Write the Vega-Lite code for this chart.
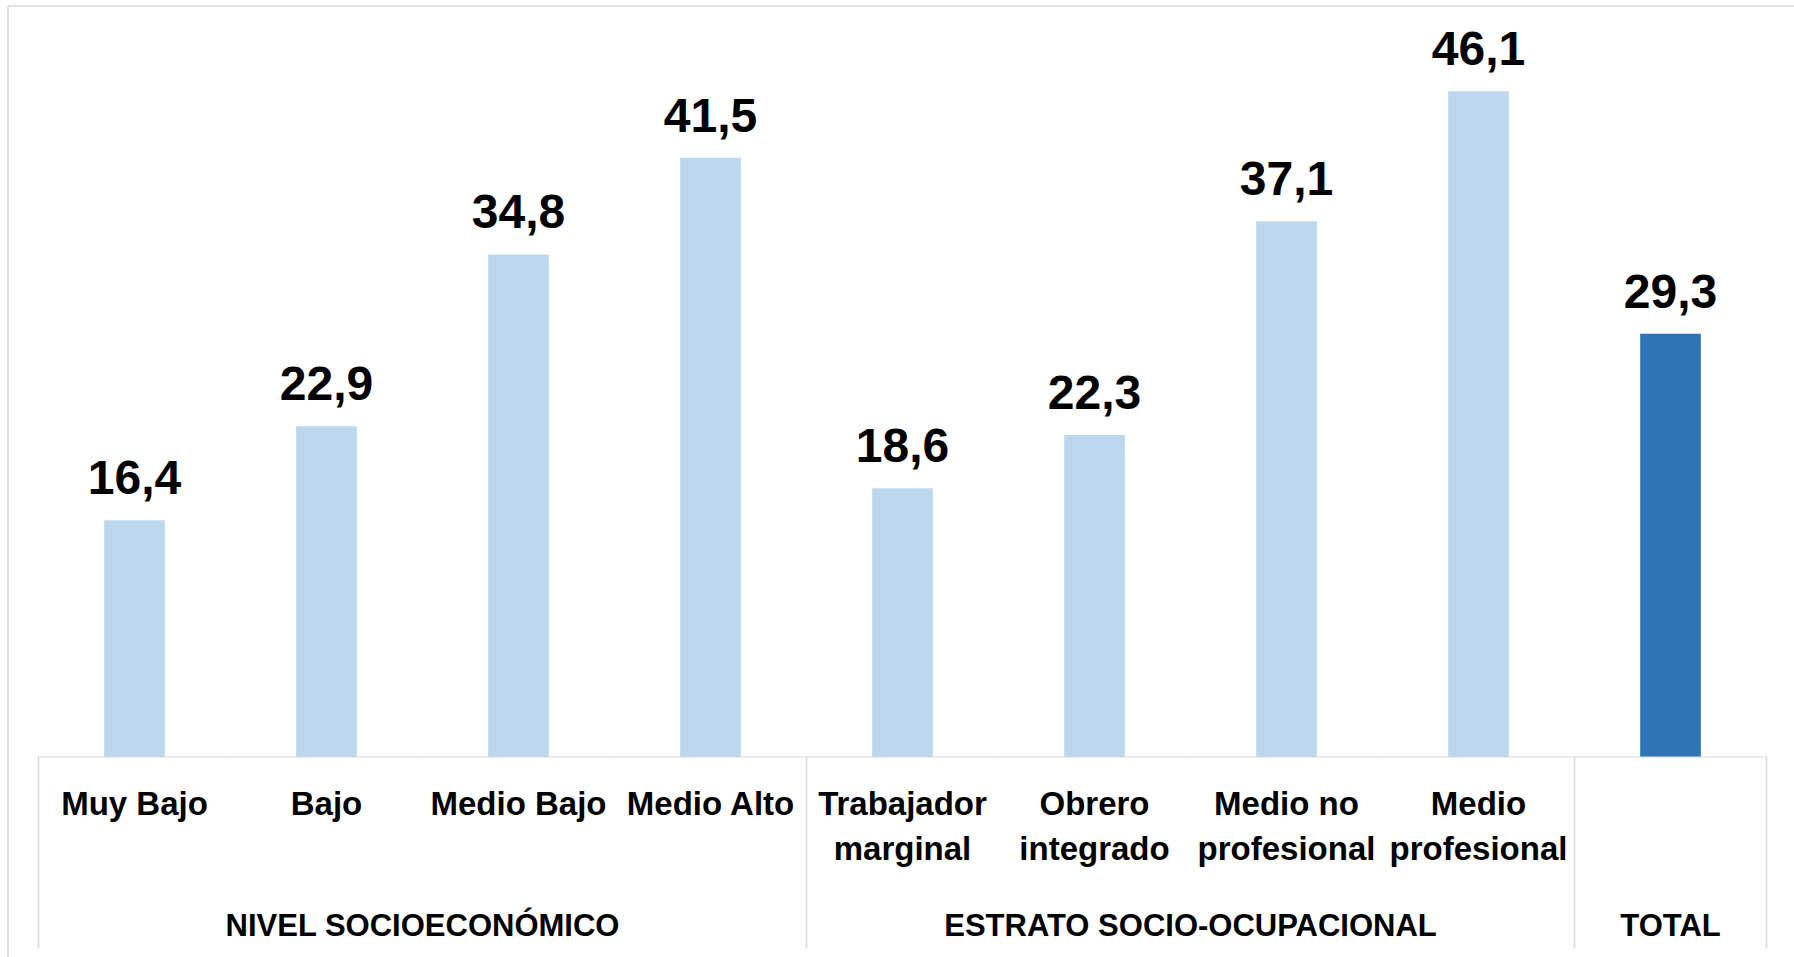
{
  "$schema": "https://vega.github.io/schema/vega-lite/v6.json",
  "autosize": "none",
  "width": 1786,
  "height": 951,
  "padding": {"left": 8, "top": 6, "right": 0, "bottom": 0},
  "background": "white",
  "config": {
    "font": "Liberation Sans",
    "view": {"stroke": "#d9d9d9", "strokeWidth": 1.5, "strokeDash": [1786, 2737, 951, 0]},
    "axis": {"domain": false, "ticks": false, "grid": false},
    "locale": {"number": {"decimal": ",", "thousands": ".", "grouping": [3], "currency": ["", " €"]}}
  },
  "data": {"values": [
    {"cat": "Muy Bajo", "grp": "NIVEL SOCIOECONÓMICO", "value": 16.4},
    {"cat": "Bajo", "grp": "NIVEL SOCIOECONÓMICO", "value": 22.9},
    {"cat": "Medio Bajo", "grp": "NIVEL SOCIOECONÓMICO", "value": 34.8},
    {"cat": "Medio Alto", "grp": "NIVEL SOCIOECONÓMICO", "value": 41.5},
    {"cat": "Trabajador\nmarginal", "grp": "ESTRATO SOCIO-OCUPACIONAL", "value": 18.6},
    {"cat": "Obrero\nintegrado", "grp": "ESTRATO SOCIO-OCUPACIONAL", "value": 22.3},
    {"cat": "Medio no\nprofesional", "grp": "ESTRATO SOCIO-OCUPACIONAL", "value": 37.1},
    {"cat": "Medio\nprofesional", "grp": "ESTRATO SOCIO-OCUPACIONAL", "value": 46.1},
    {"cat": "TOTAL", "grp": "TOTAL", "value": 29.3}
  ]},
  "transform": [
    {"window": [{"op": "row_number", "as": "rn"}, {"op": "count", "as": "n"}], "groupby": ["grp"], "frame": [null, null]}
  ],
  "layer": [
    {
      "mark": {"type": "bar", "width": {"band": 0.316}},
      "encoding": {
        "x": {
          "field": "cat", "type": "nominal", "sort": null,
          "scale": {"paddingInner": 0, "paddingOuter": 0.151, "align": 0.526},
          "axis": {
            "title": null, "orient": "bottom", "offset": -200,
            "labelAngle": 0, "labelAlign": "center", "labelBaseline": "alphabetic",
            "labelPadding": 57, "labelFont": "Liberation Sans", "labelFontSize": 33,
            "labelFontWeight": "bold", "labelColor": "#000000", "labelLineHeight": 45,
            "labelLimit": 400, "labelOverlap": false,
            "labelExpr": "datum.value == 'TOTAL' ? '' : split(datum.value, '\\n')"
          }
        },
        "y": {"field": "value", "type": "quantitative", "scale": {"domain": [-13.85, 52.0], "nice": false, "zero": false}, "axis": null},
        "color": {"condition": {"test": "datum.grp === 'TOTAL'", "value": "#2E75B6"}, "value": "#BDD7EE"}
      }
    },
    {
      "mark": {"type": "text", "baseline": "alphabetic", "align": "center", "dy": -26, "fontSize": 48, "fontWeight": "bold", "color": "#000000"},
      "encoding": {
        "x": {"field": "cat", "type": "nominal", "sort": null},
        "y": {"field": "value", "type": "quantitative"},
        "text": {"field": "value", "type": "quantitative", "format": ".1f"}
      }
    },
    {
      "mark": {"type": "tick", "orient": "horizontal", "size": 193, "thickness": 1.5, "color": "#d9d9d9"},
      "encoding": {
        "x": {"field": "cat", "type": "nominal", "sort": null},
        "y": {"datum": 0, "type": "quantitative"}
      }
    },
    {
      "transform": [{"filter": "datum.rn == 1"}],
      "mark": {"type": "rule", "color": "#d9d9d9", "strokeWidth": 1.5},
      "encoding": {
        "x": {"field": "cat", "type": "nominal", "sort": null, "bandPosition": 0},
        "y": {"datum": 0, "type": "quantitative"},
        "y2": {"datum": -13.26}
      }
    },
    {
      "transform": [{"filter": "datum.grp === 'TOTAL'"}],
      "mark": {"type": "rule", "color": "#d9d9d9", "strokeWidth": 1.5},
      "encoding": {
        "x": {"field": "cat", "type": "nominal", "sort": null, "bandPosition": 1},
        "y": {"datum": 0, "type": "quantitative"},
        "y2": {"datum": -13.26}
      }
    },
    {
      "transform": [{"filter": "datum.n % 2 == 0 && datum.rn == datum.n / 2 + 1"}],
      "mark": {"type": "text", "baseline": "alphabetic", "align": "center", "dy": 179, "fontSize": 31, "fontWeight": "bold", "color": "#000000"},
      "encoding": {
        "x": {"field": "cat", "type": "nominal", "sort": null, "bandPosition": 0},
        "y": {"datum": 0, "type": "quantitative"},
        "text": {"field": "grp"}
      }
    },
    {
      "transform": [{"filter": "datum.n % 2 == 1 && datum.rn == (datum.n + 1) / 2"}],
      "mark": {"type": "text", "baseline": "alphabetic", "align": "center", "dy": 179, "fontSize": 31, "fontWeight": "bold", "color": "#000000"},
      "encoding": {
        "x": {"field": "cat", "type": "nominal", "sort": null, "bandPosition": 0.5},
        "y": {"datum": 0, "type": "quantitative"},
        "text": {"field": "grp"}
      }
    }
  ]
}
